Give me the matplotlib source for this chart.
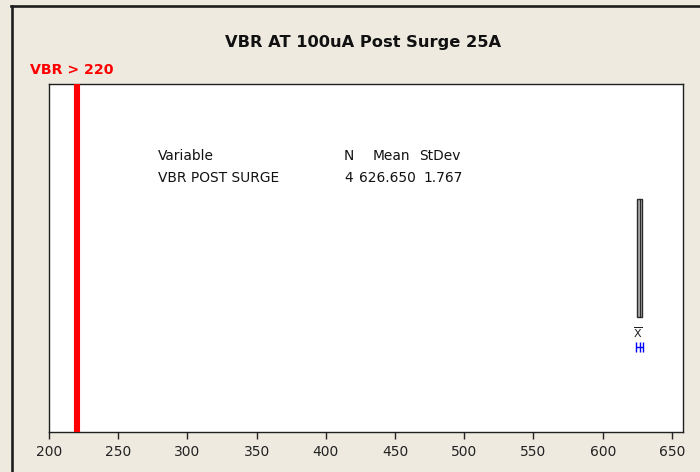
import numpy as np
import matplotlib
matplotlib.use("Agg")
import matplotlib.pyplot as plt
from matplotlib.lines import Line2D
from matplotlib import transforms

# Observations of breakdown voltage after the 25A surge
vbr_post_surge = [624.5, 626.2, 627.2, 628.7]

# Reported summary statistics
stat_n = 4
stat_mean = 626.650
stat_stdev = 1.767
t_975_df3 = 3.182  # two-sided 95% t quantile, 3 degrees of freedom

# Lower specification limit
vbr_limit = 220

x_ticks = [200, 250, 300, 350, 400, 450, 500, 550, 600, 650]
x_range = (200, 658)

W, H = 700, 472
fig = plt.figure(figsize=(W / 100, H / 100), dpi=100)
fig.patch.set_facecolor("#EEEAE0")

# Window frame (top and left edges)
px = transforms.Affine2D().scale(1.0 / W, 1.0 / H) + fig.transFigure
fig.add_artist(Line2D([11, W], [H - 6, H - 6], transform=px, color="#1e1e1e", lw=1.9))
fig.add_artist(Line2D([12, 12], [H - 6, 0], transform=px, color="#1e1e1e", lw=1.9))

ax = fig.add_axes([49 / W, (H - 432) / H, (683 - 49) / W, (432 - 83.5) / H])
ax.set_facecolor("white")

# Limit line
ax.axvline(vbr_limit, color="#FF0000", lw=4.4, zorder=3)
ax.text(vbr_limit, 1.0, f"VBR > {vbr_limit}",
        transform=transforms.blended_transform_factory(ax.transData, ax.transAxes)
        + transforms.ScaledTranslation(-5 / 100, 7 / 100, fig.dpi_scale_trans),
        ha="center", va="bottom", color="#FF0000", fontsize=10.2,
        fontweight="bold")

# Boxplot using (n+1)p quartiles
vals = np.array(vbr_post_surge)
q1, med, q3 = np.percentile(vals, [25, 50, 75], method="weibull")
stats = [dict(med=med, q1=q1, q3=q3, whislo=vals.min(), whishi=vals.max(),
              fliers=[])]
ax.bxp(stats, positions=[0.4986], widths=0.338, orientation="horizontal",
       showcaps=False, patch_artist=True,
       boxprops=dict(facecolor="#ABABAB", edgecolor="#2a2a2a", lw=1.0),
       medianprops=dict(color="#2a2a2a", lw=0.8),
       whiskerprops=dict(color="#2a2a2a", lw=1.0))

# 95% confidence interval for the mean
half = t_975_df3 * stat_stdev / np.sqrt(stat_n)
ax.errorbar([stat_mean], [0.2436], xerr=[[half], [half]], fmt="none",
            ecolor="#0000FF", elinewidth=1.0, capsize=3.6, capthick=1.0)
ax.plot([stat_mean], [0.2436], marker="|", markersize=6.5, color="#0000FF",
        mew=1.0)
ax.text(stat_mean - 1.0, 0.284, r"$\overline{\mathrm{X}}$", ha="center",
        va="center", fontsize=8, color="#202020")

ax.set_xlim(*x_range)
ax.set_ylim(0, 1)
ax.set_yticks([])
ax.set_xticks(x_ticks)
ax.set_xticklabels([str(t) for t in x_ticks])
ax.tick_params(axis="x", direction="out", length=5, width=1, pad=4.5,
               labelsize=10, colors="#222222")
for sp in ax.spines.values():
    sp.set_color("#202020")
    sp.set_linewidth(1.0)

# Summary table
def ptxt(x, y, s):
    ax.text((x - 49) / (683 - 49), (432 - y) / (432 - 83.5), s,
            transform=ax.transAxes, ha="left", va="center", fontsize=9.9,
            color="#111111")

ptxt(158, 156, "Variable")
ptxt(344, 156, "N")
ptxt(373, 156, "Mean")
ptxt(419, 156, "StDev")
ptxt(158, 178, "VBR POST SURGE")
ptxt(344, 178, f"{stat_n}")
ptxt(359, 178, f"{stat_mean:.3f}")
ptxt(423, 178, f"{stat_stdev:.3f}")

fig.text(363 / W, 1 - 43 / H, "VBR AT 100uA Post Surge 25A", ha="center",
         va="center", fontsize=11.7, fontweight="bold", color="#111111")

fig.savefig("out.png", dpi=100, facecolor=fig.get_facecolor())
